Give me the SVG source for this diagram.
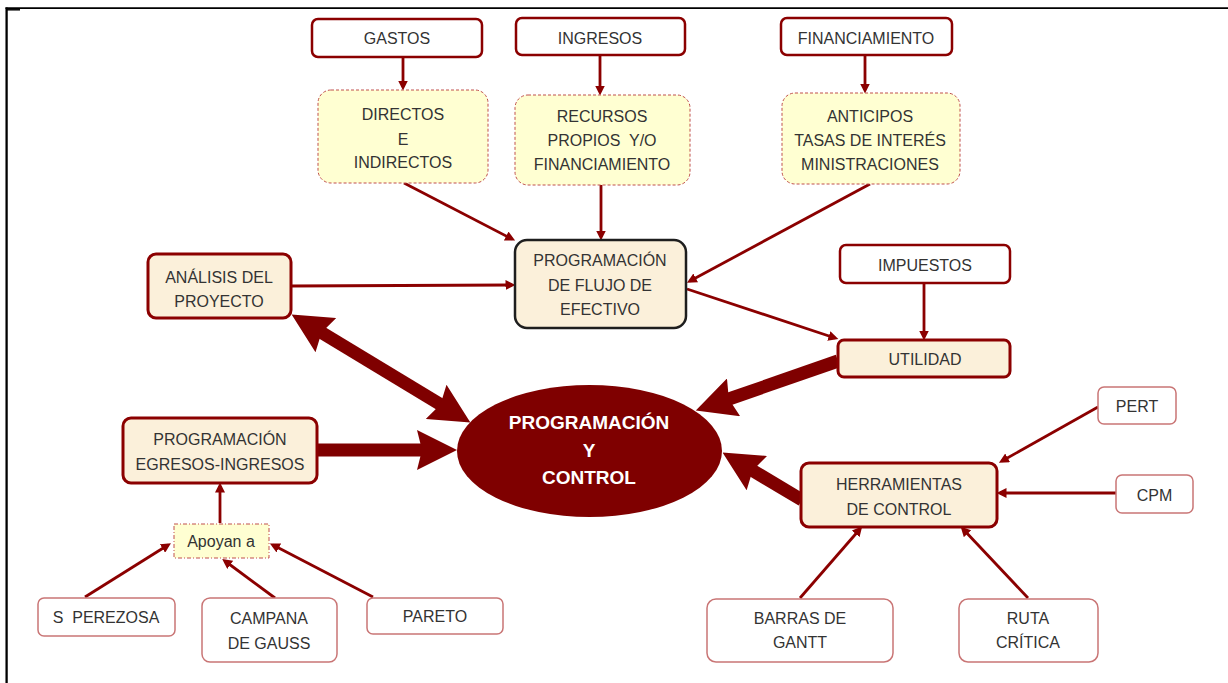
<svg xmlns="http://www.w3.org/2000/svg" width="1228" height="683" viewBox="0 0 1228 683">
<style>
.t{font-family:"Liberation Sans",Arial,sans-serif;font-size:16px;fill:#333;text-anchor:middle}
.w{font-family:"Liberation Sans",Arial,sans-serif;font-size:19px;font-weight:bold;fill:#fff;text-anchor:middle}
.dark{fill:#fff;stroke:#8B0000;stroke-width:2.5}
.light{fill:#fff;stroke:#C97575;stroke-width:1.5}
.yel{fill:#FFFFD2;stroke:#C0504D;stroke-width:1;stroke-dasharray:3 2}
.cream{fill:#FBF0DA;stroke:#8B0000;stroke-width:3}
.thin{stroke:#8B0000;stroke-width:2.8;fill:none;marker-end:url(#ah)}
.thick{stroke:#7F0000;stroke-width:13;fill:none;marker-end:url(#big)}
</style>
<defs>
<marker id="ah" viewBox="0 0 10 10" refX="6.5" refY="5" markerWidth="10" markerHeight="10" markerUnits="userSpaceOnUse" orient="auto">
<path d="M0,0 L10,5 L0,10 z" fill="#8B0000"/>
</marker>
<marker id="big" viewBox="0 0 40 40" refX="8" refY="20" markerWidth="40" markerHeight="40" markerUnits="userSpaceOnUse" orient="auto-start-reverse">
<path d="M0,0 L40,20 L0,40 L5,20 z" fill="#7F0000"/>
</marker>
</defs>
<rect width="1228" height="683" fill="#fff"/>
<g id="frame" stroke="#000" fill="none">
<line x1="5.5" y1="8.2" x2="1228" y2="8.2" stroke-width="1.8"/>
<line x1="6.6" y1="7.5" x2="6.6" y2="683" stroke-width="2.3"/>
<line x1="7" y1="9.8" x2="20" y2="9.8" stroke-width="1.5"/>
</g>
<g id="connectors">
<line class="thin" x1="403" y1="57" x2="403" y2="87"/>
<line class="thin" x1="600" y1="55" x2="600" y2="92"/>
<line class="thin" x1="865" y1="55" x2="865" y2="90"/>
<line class="thin" x1="404" y1="183" x2="512" y2="239"/>
<line class="thin" x1="601" y1="185" x2="601" y2="237"/>
<line class="thin" x1="870" y1="184" x2="690" y2="281"/>
<line class="thin" x1="291" y1="286" x2="512" y2="285"/>
<line class="thin" x1="687" y1="289" x2="835" y2="338"/>
<line class="thin" x1="924" y1="283" x2="924" y2="337"/>
<line class="thin" x1="1098" y1="407" x2="1002" y2="461"/>
<line class="thin" x1="1116" y1="493" x2="1000" y2="493"/>
<line class="thin" x1="800" y1="598" x2="860" y2="529"/>
<line class="thin" x1="1028" y1="598" x2="963" y2="529"/>
<line class="thin" x1="220" y1="523" x2="220" y2="486"/>
<line class="thin" x1="85" y1="597" x2="168" y2="545"/>
<line class="thin" x1="275" y1="598" x2="225" y2="561"/>
<line class="thin" x1="373" y1="597" x2="273" y2="545"/>
<line class="thick" x1="838" y1="361" x2="726" y2="400"/>
<line class="thick" x1="802" y1="500" x2="750" y2="469"/>
<line class="thick" x1="317" y1="450" x2="425" y2="450" stroke-width="14"/>
<line class="thick" x1="319" y1="331" x2="443" y2="406" stroke-width="14" marker-start="url(#big)"/>
</g>
<g id="gastos"><rect class="dark" x="312" y="19" width="170" height="38" rx="6"/><text class="t" x="397" y="44">GASTOS</text></g>
<g id="ingresos"><rect class="dark" x="516" y="18" width="169" height="37" rx="6"/><text class="t" x="600" y="44">INGRESOS</text></g>
<g id="financiamiento"><rect class="dark" x="781" y="18" width="171" height="37" rx="6"/><text class="t" x="866" y="44">FINANCIAMIENTO</text></g>
<g id="directos"><rect class="yel" x="318" y="90" width="170" height="93" rx="13"/>
<text class="t" x="403" y="120">DIRECTOS</text><text class="t" x="403" y="145">E</text><text class="t" x="403" y="168">INDIRECTOS</text></g>
<g id="recursos"><rect class="yel" x="515" y="95" width="175" height="90" rx="13"/>
<text class="t" x="602" y="122">RECURSOS</text><text class="t" x="602" y="146" xml:space="preserve">PROPIOS  Y/O</text><text class="t" x="602" y="170">FINANCIAMIENTO</text></g>
<g id="anticipos"><rect class="yel" x="782" y="93" width="178" height="91" rx="13"/>
<text class="t" x="870" y="122">ANTICIPOS</text><text class="t" x="870" y="146">TASAS DE INTERÉS</text><text class="t" x="870" y="170">MINISTRACIONES</text></g>
<g id="flujo"><rect x="515" y="240" width="171" height="88" rx="12" fill="#FBF0DA" stroke="#1e1e1e" stroke-width="2.5"/>
<text class="t" x="600" y="266">PROGRAMACIÓN</text><text class="t" x="600" y="291">DE FLUJO DE</text><text class="t" x="600" y="315">EFECTIVO</text></g>
<g id="analisis"><rect class="cream" x="148" y="254" width="143" height="64" rx="8"/>
<text class="t" x="219" y="283">ANÁLISIS DEL</text><text class="t" x="219" y="307">PROYECTO</text></g>
<g id="impuestos"><rect class="dark" x="840" y="245" width="170" height="38" rx="6"/><text class="t" x="925" y="271">IMPUESTOS</text></g>
<g id="utilidad"><rect class="cream" x="838" y="340" width="172" height="37" rx="6"/><text class="t" x="925" y="365">UTILIDAD</text></g>
<g id="programacion-control"><ellipse cx="589.5" cy="451" rx="132.5" ry="66" fill="#7F0000"/>
<text class="w" x="589" y="429">PROGRAMACIÓN</text><text class="w" x="589" y="457">Y</text><text class="w" x="589" y="484">CONTROL</text></g>
<g id="egresos"><rect class="cream" x="123" y="418" width="194" height="65" rx="8"/>
<text class="t" x="220" y="445">PROGRAMACIÓN</text><text class="t" x="220" y="470">EGRESOS-INGRESOS</text></g>
<g id="apoyan"><rect x="174" y="524" width="95" height="34" fill="#FFFFD2" stroke="#C0504D" stroke-width="1" stroke-dasharray="4 2 1 2"/>
<text class="t" x="221" y="547">Apoyan a</text></g>
<g id="perezosa"><rect class="light" x="38" y="598" width="137" height="38" rx="6"/><text class="t" x="106" y="623" xml:space="preserve">S  PEREZOSA</text></g>
<g id="campana"><rect class="light" x="202" y="598" width="135" height="64" rx="8"/>
<text class="t" x="269" y="624">CAMPANA</text><text class="t" x="269" y="649">DE GAUSS</text></g>
<g id="pareto"><rect class="light" x="367" y="598" width="136" height="36" rx="6"/><text class="t" x="435" y="622">PARETO</text></g>
<g id="herramientas"><rect class="cream" x="801" y="463" width="196" height="64" rx="8"/>
<text class="t" x="899" y="490">HERRAMIENTAS</text><text class="t" x="899" y="515">DE CONTROL</text></g>
<g id="pert"><rect class="light" x="1098" y="387" width="78" height="37" rx="6"/><text class="t" x="1137" y="412">PERT</text></g>
<g id="cpm"><rect class="light" x="1116" y="475" width="77" height="38" rx="6"/><text class="t" x="1154.5" y="501">CPM</text></g>
<g id="barras"><rect class="light" x="707" y="599" width="186" height="63" rx="9"/>
<text class="t" x="800" y="624">BARRAS DE</text><text class="t" x="800" y="648">GANTT</text></g>
<g id="ruta"><rect class="light" x="959" y="599" width="139" height="63" rx="9"/>
<text class="t" x="1028" y="624">RUTA</text><text class="t" x="1028" y="648">CRÍTICA</text></g>
</svg>
